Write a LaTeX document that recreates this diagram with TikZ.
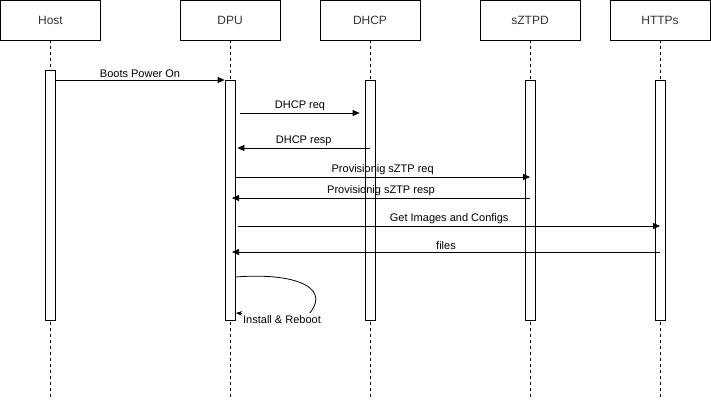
\documentclass[tikz,border=0pt]{standalone}
\usepackage{fontspec}
\setmainfont{Liberation Sans}
\usetikzlibrary{arrows.meta}

\begin{document}
\begin{tikzpicture}[
    x=1pt, y=-1pt,
    actor/.style={draw, line width=0.8pt, minimum width=100pt, minimum height=40pt,
        inner sep=0pt, font=\fontsize{12}{14}\selectfont, text=black!80},
    activation/.style={draw, fill=white, line width=0.8pt, minimum width=10pt, inner sep=0pt},
    lifeline/.style={line width=0.8pt, dash pattern=on 3pt off 3pt},
    msg/.style={-{Triangle[length=7pt,width=6pt]}, line width=0.8pt},
    msglabel/.style={font=\fontsize{11}{13}\selectfont, above, inner sep=1.5pt},
    selfmsg/.style={-{Stealth[length=6pt,width=4.5pt]}, line width=0.8pt},
    selflabel/.style={font=\fontsize{11}{13}\selectfont, fill=white, inner xsep=1pt, inner ysep=2.5pt}
]
\useasboundingbox (0,0) rectangle (711,401);
\coordinate (bottom) at (0,400);
% participants
\node[actor] (host) at (50.5,20) {Host};
\node[actor] (dpu) at (230,20) {DPU};
\node[actor] (dhcp) at (370,20) {DHCP};
\node[actor] (sztpd) at (530,20) {sZTPD};
\node[actor] (https) at (660,20) {HTTPs};
\foreach \n in {host, dpu, dhcp, sztpd, https}
    \draw[lifeline] (\n.south) -- (\n.south |- bottom);
% activation bars
\node[activation, minimum height=250pt] (hostbar) at (50,195) {};
\node[activation, minimum height=240pt] (dpubar) at (230,200) {};
\node[activation, minimum height=240pt] (dhcpbar) at (370,200) {};
\node[activation, minimum height=240pt] (sztpdbar) at (530,200) {};
\node[activation, minimum height=240pt] (httpsbar) at (660,200) {};
% messages
\draw[msg] (hostbar.east |- 0,80) -- node[msglabel] {Boots Power On} (dpubar.west |- 0,80);
\draw[msg] ([xshift=5pt]dpubar.east |- 0,113) -- node[msglabel] {DHCP req} ([xshift=-5pt]dhcpbar.west |- 0,113);
\draw[msg] (dhcpbar.center |- 0,148) -- node[msglabel] {DHCP resp} ([xshift=2pt]dpubar.east |- 0,148);
\draw[msg] (dpubar.east |- 0,177) -- node[msglabel] {Provisionig sZTP req} (sztpdbar.center |- 0,177);
\draw[msg] (sztpdbar.center |- 0,198) -- node[msglabel] {Provisionig sZTP resp} ([xshift=2pt]dpubar.center |- 0,198);
\draw[msg] ([xshift=3pt]dpubar.east |- 0,226) -- node[msglabel] {Get Images and Configs} (httpsbar.center |- 0,226);
\draw[msg] (httpsbar.center |- 0,252) -- node[msglabel] {files} ([xshift=2pt]dpubar.center |- 0,252);
\draw[selfmsg] (dpubar.east |- 0,277) .. controls (300,272) and (335,290) .. (305,318)
    -- ([xshift=0.5pt]dpubar.east |- 0,313);
\node[selflabel] (reboot) at (282,320) {Install \& Reboot};
\end{tikzpicture}
\end{document}
